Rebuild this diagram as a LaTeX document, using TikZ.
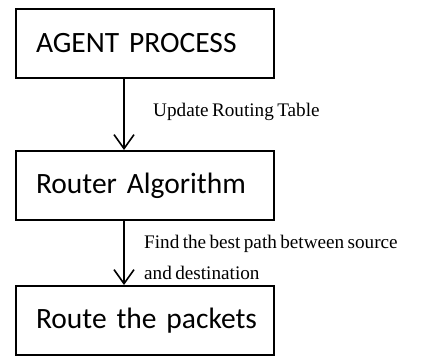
\documentclass[tikz,border=0pt]{standalone}
\usepackage{fontspec}
\setmainfont{Liberation Serif}
\newfontfamily\notefont[WordSpace=0.7]{Liberation Serif}
\newfontfamily\boxfont[WordSpace=0.85]{Carlito}
\usetikzlibrary{arrows.meta}
\begin{document}
\begin{tikzpicture}[x=1pt,y=-1pt,
  stagebox/.style={draw, line width=2pt, minimum width=258pt, minimum height=69pt,
    inner xsep=20pt, inner ysep=0pt, font=\boxfont\fontsize{29.5}{32}\selectfont,
    anchor=north west, text width=218pt, align=left},
  flow/.style={draw, line width=1.6pt, -{Straight Barb[length=14pt,width=20pt,line width=1.6pt]}},
  note/.style={font=\notefont\fontsize{19.2}{31}\selectfont,
    anchor=west, align=left, inner sep=0pt}]
  \useasboundingbox (0,0) rectangle (446,356);
  \node[stagebox] (agent) at (15,8) {\mbox{AGENT PROCESS}};
  \node[stagebox] (algo) at (15,150) {\mbox{Router Algorithm}};
  \node[stagebox] (route) at (15,285) {\mbox{Route the packets}};
  \draw[flow] (agent.south -| 124,0) -- (algo.north -| 124,0);
  \draw[flow] (algo.south -| 124,0) -- (route.north -| 124,0);
  \node[note] (upd) at (153,112) {Update Routing Table};
  \node[note] (find) at (144,257) {Find the best path between source\\and destination};
\end{tikzpicture}
\end{document}
